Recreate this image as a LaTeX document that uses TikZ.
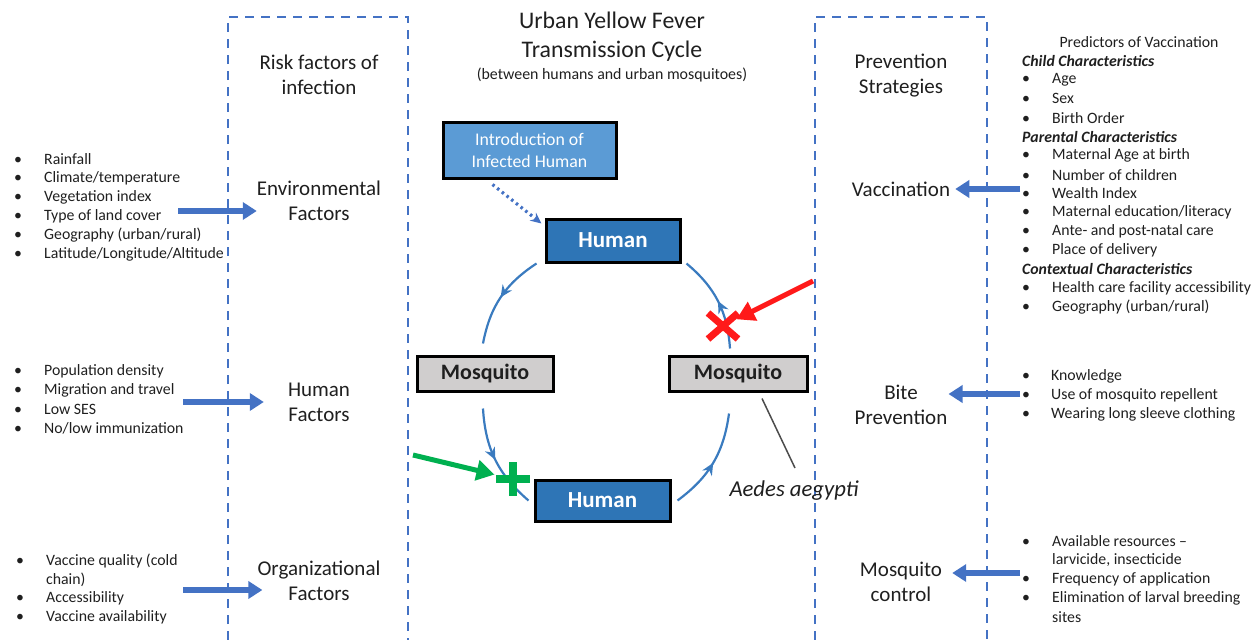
\documentclass[tikz,border=0pt]{standalone}
\usepackage{fontspec}
\setmainfont{Carlito}
\usetikzlibrary{arrows.meta,decorations.markings}
\definecolor{dblue}{HTML}{4472C4}
\definecolor{hblue}{HTML}{2E75B6}
\definecolor{iblue}{HTML}{5B9BD5}
\definecolor{mgray}{HTML}{D0CECE}
\definecolor{cycc}{HTML}{3A7BBF}
\definecolor{gred}{HTML}{FF1A1A}
\definecolor{ggreen}{HTML}{00B050}
\definecolor{txt}{HTML}{1F1F1F}
\newcommand\mybul[1]{\makebox[#1][l]{\textbullet}}
\begin{document}
\begin{tikzpicture}[x=1pt,y=-1pt,
  lbl/.style={font=\fontsize{21}{25}\selectfont, align=center, inner sep=0, text=txt},
  item/.style={font=\fontsize{15.8}{19}\selectfont, anchor=west, inner sep=0, text=txt},
  dashbox/.style={draw=dblue, line width=2.3pt, dash pattern=on 9pt off 7pt},
  barrow/.style={draw=dblue, line width=5.5pt, -{Triangle[length=14pt,width=17pt]}},
  cyc/.style={draw=cycc, line width=2.2pt, postaction={decorate},
    decoration={markings, mark=at position 0.5 with {\arrow{Stealth[length=12pt,width=11pt]}}}},
  humanbox/.style={draw=black, line width=3pt, fill=hblue, text=white, inner sep=0,
    font=\fontsize{23}{26}\selectfont\bfseries},
  mosqbox/.style={draw=black, line width=3pt, fill=mgray, text=txt, inner sep=0,
    font=\fontsize{22}{26}\selectfont\bfseries},
]
\useasboundingbox (0,0) rectangle (1254,640);

% dashed boxes
\draw[dashbox] (228,640) -- (228,17) -- (408,17) -- (408,640);
\draw[dashbox] (815,640) -- (815,17) -- (987,17) -- (987,640);

% titles
\node[lbl, font=\fontsize{23.8}{29}\selectfont] (title) at (612,36.5) {Urban Yellow Fever\\Transmission Cycle};
\node[inner sep=0, text=txt, font=\fontsize{15.9}{18}\selectfont] (subtitle) at (612,75) {(between humans and urban mosquitoes)};
\node[lbl] (risk) at (319,74.5) {Risk factors of\\infection};
\node[lbl] (prev) at (901,75.5) {Prevention\\Strategies};

% left labels
\node[lbl] (envlbl) at (319,200.5) {Environmental\\Factors};
\node[lbl] (humlbl) at (319,402.5) {Human\\Factors};
\node[lbl] (orglbl) at (319,580.5) {Organizational\\Factors};
% right labels
\node[lbl] (vacc) at (901,189) {Vaccination};
\node[lbl] (bite) at (901,404.5) {Bite\\Prevention};
\node[lbl] (mctl) at (901,581.5) {Mosquito\\control};

% left lists
\foreach \t [count=\i] in {Rainfall, Climate/temperature, Vegetation index, Type of land cover, Geography (urban/rural), Latitude/Longitude/Altitude}
  \node[item] (env\i) at (14,{159+19*(\i-1)}) {\mybul{30pt}\t};
\foreach \t [count=\i] in {Population density, Migration and travel, Low SES, No/low immunization}
  \node[item] (hum\i) at (14,{371+19*(\i-1)}) {\mybul{30pt}\t};
\node[item] (org1) at (16,561) {\mybul{30pt}Vaccine quality (cold};
\node[item] (org2) at (16,579.7) {\hspace*{30pt}chain)};
\node[item] (org3) at (16,598.4) {\mybul{30pt}Accessibility};
\node[item] (org4) at (16,617) {\mybul{30pt}Vaccine availability};

% right list: predictors
\node[inner sep=0, text=txt, font=\fontsize{15.8}{19}\selectfont] (pred0) at (1139,42) {Predictors of Vaccination};
\foreach \t [count=\i] in {{\textbf{\textit{Child Characteristics}}}, {\mybul{30pt}Age}, {\mybul{30pt}Sex}, {\mybul{30pt}Birth Order},
  {\textbf{\textit{Parental Characteristics}}}, {\mybul{30pt}Maternal Age at birth}, {\mybul{30pt}Number of children},
  {\mybul{30pt}Wealth Index}, {\mybul{30pt}Maternal education/literacy}, {\mybul{30pt}Ante- and post-natal care},
  {\mybul{30pt}Place of delivery}, {\textbf{\textit{Contextual Characteristics}}},
  {\mybul{30pt}Health care facility accessibility}, {\mybul{30pt}Geography (urban/rural)}}
  \node[item] (pred\i) at (1022,{61+18.93*(\i-1)}) {\t};

\foreach \t [count=\i] in {Knowledge, Use of mosquito repellent, Wearing long sleeve clothing}
  \node[item] (bite\i) at (1022,{376+19*(\i-1)}) {\mybul{29pt}\t};
\node[item] (mc1) at (1022,541) {\mybul{30pt}Available resources --};
\node[item] (mc2) at (1022,560) {\hspace*{30pt}larvicide, insecticide};
\node[item] (mc3) at (1022,579) {\mybul{30pt}Frequency of application};
\node[item] (mc4) at (1022,598) {\mybul{30pt}Elimination of larval breeding};
\node[item] (mc5) at (1022,617) {\hspace*{30pt}sites};

% blue arrows
\coordinate (ea) at (178,211);
\coordinate (ha) at (183,402);
\coordinate (oa) at (183,590);
\coordinate (va) at (1020,189);
\coordinate (ba) at (1020,394);
\coordinate (ma) at (1020,573);
\draw[barrow] (ea) -- (ea -| envlbl.west);
\draw[barrow, shorten >=24pt] (ha) -- (ha -| humlbl.west);
\draw[barrow, shorten >=-5pt] (oa) -- (oa -| orglbl.west);
\draw[barrow, shorten >=5pt] (va) -- (va -| vacc.east);
\draw[barrow, shorten >=1pt] (ba) -- (ba -| bite.east);
\draw[barrow, shorten >=10pt] (ma) -- (ma -| mctl.east);

% cycle
\node[draw=black, line width=3pt, fill=iblue, text=white, inner sep=0, minimum width=173pt, minimum height=56pt,
  align=center, font=\fontsize{17.8}{22}\selectfont] (intro) at (529.5,150) {Introduction of\\Infected Human};
\node[humanbox, minimum width=134pt, minimum height=43pt] (hTop) at (613,240.5) {Human};
\node[mosqbox, minimum width=136pt, minimum height=35pt] (mLeft) at (485,373.5) {Mosquito};
\node[mosqbox, minimum width=138pt, minimum height=35pt] (mRight) at (738,373.5) {Mosquito};
\node[humanbox, minimum width=135pt, minimum height=41pt] (hBot) at (602.5,500.5) {Human};

\draw[draw=dblue, line width=3.2pt, dash pattern=on 2.5pt off 3.5pt, -{Stealth[length=11pt,width=10pt]}]
  ([xshift=-37pt,yshift=-5pt]intro.south) -- ([xshift=-3pt,yshift=-6pt]hTop.north west);

\draw[cyc] ([xshift=-8pt]hTop.south west) to[bend right=23] ([xshift=-2pt,yshift=11pt]mLeft.north);
\draw[cyc] ([xshift=-2pt,yshift=-16pt]mLeft.south) to[bend right=23] ([xshift=-5pt]hBot.west);
\draw[cyc] ([xshift=6pt]hBot.east) to[bend right=23] ([xshift=-9pt,yshift=-21pt]mRight.south);
\draw[cyc] ([xshift=-8pt,yshift=6pt]mRight.north) to[bend right=23] ([xshift=5pt]hTop.south east);

% block (red X) and boost (green +)
\coordinate (block) at (723,326);
\coordinate (redtail) at (813,281);
\draw[gred, line width=7pt] ([shift={(-15,-13)}]block) -- ([shift={(15,13)}]block)
  ([shift={(-15,13)}]block) -- ([shift={(15,-13)}]block);
\draw[gred, line width=5pt, shorten >=15pt, -{Triangle[length=18pt,width=20pt]}] (redtail) -- (block);

\coordinate (boost) at (513,479);
\coordinate (greentail) at (413,455);
\draw[ggreen, line width=8pt] ([xshift=-17pt]boost) -- ([xshift=17pt]boost)
  ([yshift=17pt]boost) -- ([yshift=-17pt]boost);
\draw[ggreen, line width=5pt, shorten >=19pt, -{Triangle[length=18pt,width=20pt]}] (greentail) -- (boost);

% Aedes aegypti
\node[inner sep=0, text=txt, font=\fontsize{22.7}{26}\selectfont\itshape] (aedes) at (794,491) {Aedes aegypti};
\coordinate (aedesline) at (795,468);
\draw[draw=txt!80, line width=1.5pt] ([xshift=24pt,yshift=-6pt]mRight.south) -- (aedesline);
\end{tikzpicture}
\end{document}
